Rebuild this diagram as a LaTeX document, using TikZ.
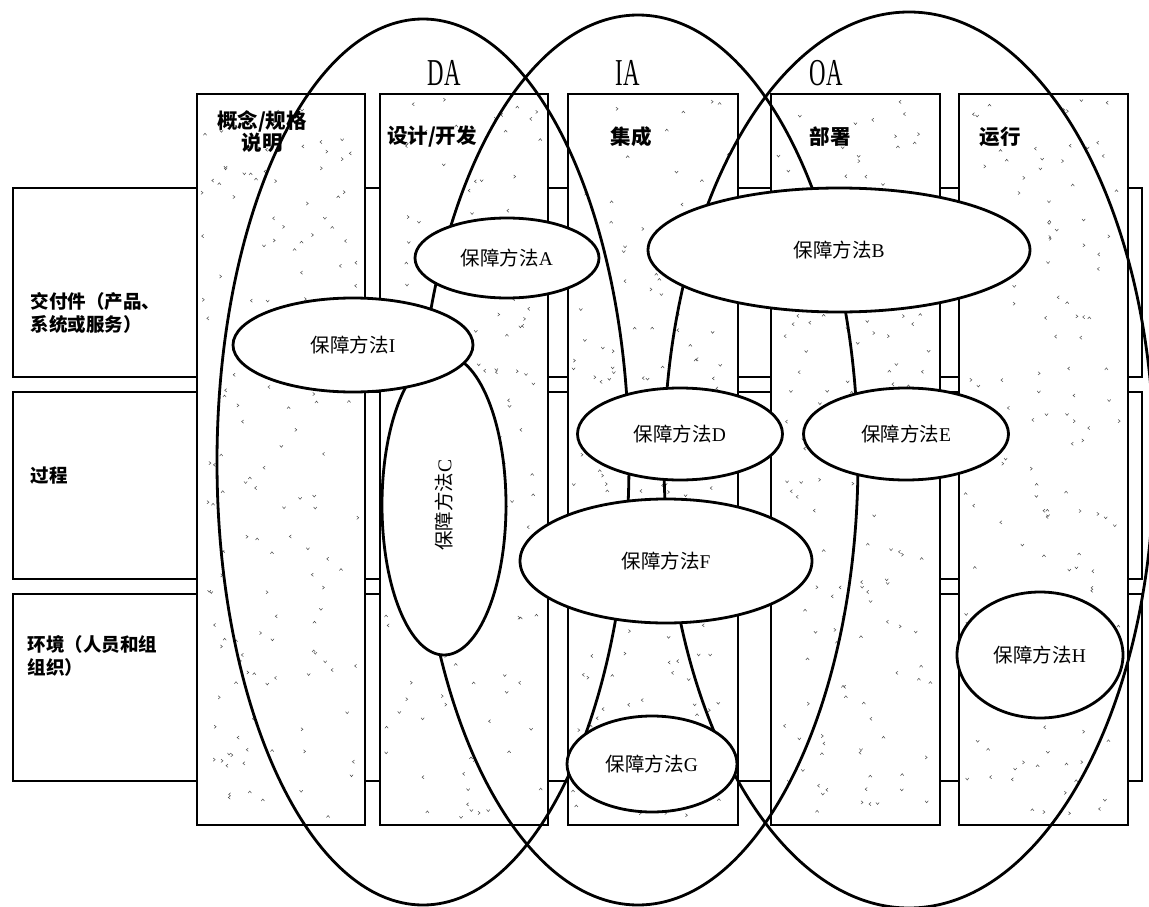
\documentclass[tikz,border=0pt]{standalone}
\usepackage{fontspec}
\setmainfont{Liberation Serif}
\newfontfamily\cjk{Noto Sans CJK SC}
\usetikzlibrary{shapes.geometric}
\tikzset{
  rowbox/.style={draw=black, line width=2.2pt, fill=white, inner sep=0pt, anchor=north west},
  colbox/.style={draw=black, line width=2.3pt, fill=white, inner sep=0pt, anchor=north west},
  stip/.style={line width=0.5pt, black!70},
  bigell/.style={ellipse, draw=black, line width=2.8pt, inner sep=0pt},
  method/.style={ellipse, draw=black, line width=2.8pt, fill=white, inner sep=0pt, font=\fontsize{19.5}{21}\selectfont},
  hdr/.style={font=\cjk\bfseries\fontsize{20.5}{21}\selectfont, align=center},
  rowlbl/.style={font=\cjk\bfseries\fontsize{18.5}{23}\selectfont, align=left, anchor=west},
  phase/.style={font=\fontsize{38}{38}\selectfont, xscale=0.6},
}
\begin{document}
\begin{tikzpicture}[x=1pt, y=-1pt]
\useasboundingbox (0,0) rectangle (1149,907);
\clip (0,0) rectangle (1149,907);
% row strips
\node[rowbox, minimum width=1129pt, minimum height=189pt] (row1) at (12,187) {};
\node[rowbox, minimum width=1129pt, minimum height=187pt] (row2) at (12,391) {};
\node[rowbox, minimum width=1129pt, minimum height=187pt] (row3) at (12,593) {};
% columns
\node[colbox, minimum width=168pt, minimum height=731pt] (col1) at (196,93) {};
\node[colbox, minimum width=168pt, minimum height=731pt] (col2) at (379,93) {};
\node[colbox, minimum width=170pt, minimum height=731pt] (col3) at (567,93) {};
\node[colbox, minimum width=169pt, minimum height=731pt] (col4) at (770,93) {};
\node[colbox, minimum width=169pt, minimum height=731pt] (col5) at (958,93) {};
% stipple
\pgfmathsetseed{7}
\foreach \cx in {196,379,567,770,958} {
  \foreach \i in {1,...,150} {
    \pgfmathsetmacro{\mx}{\cx+6+rnd*156}
    \pgfmathsetmacro{\my}{99+rnd*719}
    \pgfmathsetmacro{\ma}{90*int(rnd*4)}
    \draw[stip, shift={(\mx,\my)}, rotate=\ma] (-1.6,1) -- (0,-1) -- (1.6,1);
  }
}
% headers
\node[hdr] (h1) at (262,132) {概念/规格\\说明};
\node[hdr] (h2) at (432,137) {设计/开发};
\node[hdr] (h3) at (631,137) {集成};
\node[hdr] (h4) at (830,137) {部署};
\node[hdr] (h5) at (1000,137) {运行};
% row labels
\node[rowlbl] (r1) at (27,313) {交付件（产品、\\系统或服务）};
\node[rowlbl] (r2) at (27,476) {过程};
\node[rowlbl] (r3) at (24,656) {环境（人员和组\\组织）};
% big ellipses
\node[bigell, minimum width=412pt, minimum height=886pt] (DA) at (423,462) {};
\node[bigell, minimum width=440pt, minimum height=890pt] (IA) at (638,460) {};
\node[bigell, minimum width=490pt, minimum height=896pt] (OA) at (909,460) {};
\node[phase] (lDA) at (444,73) {DA};
\node[phase] (lIA) at (628,73) {IA};
\node[phase] (lOA) at (826,73) {OA};
% methods
\node[method, minimum width=184pt, minimum height=80pt] (mA) at (507,258) {{\cjk 保障方法}A};
\node[method, minimum width=382pt, minimum height=124pt] (mB) at (839,250) {{\cjk 保障方法}B};
\node[method, rotate=90, minimum width=300pt, minimum height=124pt] (mC) at (444,505) {{\cjk 保障方法}C};
\node[method, minimum width=240pt, minimum height=94pt] (mI) at (353,345) {{\cjk 保障方法}I};
\node[method, minimum width=205pt, minimum height=92pt] (mD) at (680,434) {{\cjk 保障方法}D};
\node[method, minimum width=205pt, minimum height=92pt] (mE) at (906,434) {{\cjk 保障方法}E};
\node[method, minimum width=292pt, minimum height=124pt] (mF) at (666,561) {{\cjk 保障方法}F};
\node[method, minimum width=170pt, minimum height=96pt] (mG) at (652,764) {{\cjk 保障方法}G};
\node[method, minimum width=166pt, minimum height=126pt] (mH) at (1040,655) {{\cjk 保障方法}H};
\end{tikzpicture}
\end{document}
